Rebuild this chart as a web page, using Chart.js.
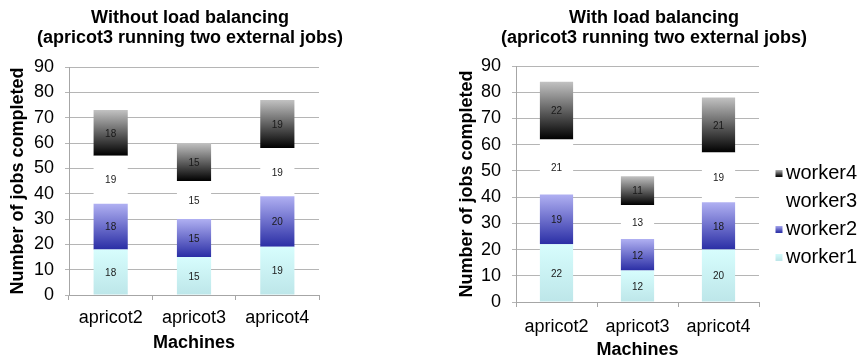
<!DOCTYPE html>
<html>
<head>
<meta charset="utf-8">
<script src="https://cdn.jsdelivr.net/npm/chart.js@4.4.1/dist/chart.umd.min.js"></script>
<style>
  html, body { margin: 0; padding: 0; background: #ffffff; overflow: hidden; width: 859px; height: 360px; }
  #leftChart { position: absolute; left: 0; top: 0; }
  #rightChart { position: absolute; left: 444px; top: 0; }
</style>
</head>
<body>
<canvas id="leftChart" width="380" height="360"></canvas>
<canvas id="rightChart" width="420" height="360"></canvas>
<script>
// ---- data -------------------------------------------------------------
const machines = ['apricot2', 'apricot3', 'apricot4'];
const workerNames = ['worker1', 'worker2', 'worker3', 'worker4'];

// Jobs completed per worker, no load balancing
const noLbWorker1 = [18, 15, 19];
const noLbWorker2 = [18, 15, 20];
const noLbWorker3 = [19, 15, 19];
const noLbWorker4 = [18, 15, 19];

// Jobs completed per worker, load balancing enabled
const lbWorker1 = [22, 12, 20];
const lbWorker2 = [19, 12, 18];
const lbWorker3 = [21, 13, 19];
const lbWorker4 = [22, 11, 21];

const yMin = 0;
const yMax = 90;
const yStep = 10;

const titleNoLb = ['Without load balancing', '(apricot3 running two external jobs)'];
const titleLb = ['With load balancing', '(apricot3 running two external jobs)'];
const yAxisTitle = 'Number of jobs completed';
const xAxisTitle = 'Machines';

// ---- styling ----------------------------------------------------------
const FONT = '"Liberation Sans", Arial, Helvetica, sans-serif';
Chart.defaults.font.family = FONT;
Chart.defaults.color = '#000000';

// top colour -> bottom colour of each worker's segment
const workerShades = [
  ['#d7fdfd', '#bde6e9'],
  ['#b0b0f2', '#2a2ea5'],
  ['#ffffff', '#ffffff'],
  ['#c2c2c2', '#000000']
];

function segmentFill(ctx) {
  const chart = ctx.chart;
  const shade = workerShades[ctx.datasetIndex];
  const y = chart.scales.y;
  if (ctx.type !== 'data' || !y) return shade[1];
  let base = 0;
  for (let i = 0; i < ctx.datasetIndex; i++) {
    base += chart.data.datasets[i].data[ctx.dataIndex];
  }
  const yTop = y.getPixelForValue(base + ctx.raw);
  const yBottom = y.getPixelForValue(base);
  if (!isFinite(yTop) || !isFinite(yBottom) || yTop === yBottom) return shade[1];
  const g = chart.ctx.createLinearGradient(0, yTop, 0, yBottom);
  g.addColorStop(0, shade[0]);
  g.addColorStop(1, shade[1]);
  return g;
}

// small legend swatches; the square sits near the right end so it stays close to the label
function makeSwatch(shade) {
  const c = document.createElement('canvas');
  c.width = 30; c.height = 7;
  const g = c.getContext('2d');
  const grad = g.createLinearGradient(0, 0, 0, 7);
  grad.addColorStop(0, shade[0]);
  grad.addColorStop(1, shade[1]);
  g.fillStyle = grad;
  g.fillRect(19, 0, 7, 7);
  return c;
}
const swatches = workerShades.map(makeSwatch);

// value printed in the middle of every stacked segment
const segmentValueLabels = {
  id: 'segmentValueLabels',
  afterDatasetsDraw(chart) {
    const ctx = chart.ctx;
    ctx.save();
    ctx.font = '10px ' + FONT;
    ctx.fillStyle = '#1a1a1a';
    ctx.textAlign = 'center';
    ctx.textBaseline = 'middle';
    chart.data.datasets.forEach((ds, di) => {
      const meta = chart.getDatasetMeta(di);
      meta.data.forEach((bar, i) => {
        ctx.fillText(String(ds.data[i]), bar.x, (bar.y + bar.base) / 2 + 1);
      });
    });
    ctx.restore();
  }
};

function buildDatasets(series) {
  return series.map((values, i) => ({
    label: workerNames[i],
    data: values,
    backgroundColor: segmentFill,
    borderWidth: 0,
    categoryPercentage: 1.0,
    barPercentage: 0.41
  }));
}

function buildConfig(p) {
  const scales = {
    x: {
      stacked: true,
      grid: { display: true, drawOnChartArea: false, offset: true, tickLength: 5, color: '#a6a6a6' },
      border: { display: true, color: '#a6a6a6' },
      ticks: { font: { size: 18 }, padding: p.xTickPad, color: '#000' },
      title: {
        display: true, text: xAxisTitle, color: '#000',
        font: { size: 18, weight: 'bold', lineHeight: p.xTitleLH },
        padding: { top: 0, bottom: p.xTitlePadBottom }
      },
      afterFit(s) { s.height = p.xAxisHeight; }
    },
    y: {
      stacked: true,
      min: yMin, max: yMax,
      grid: { color: '#b5b5b5', tickLength: 4 },
      border: { display: true, color: '#a6a6a6' },
      ticks: { stepSize: yStep, font: { size: 18 }, padding: 11, color: '#000' },
      title: {
        display: true, text: yAxisTitle, color: '#000',
        font: { size: 18, weight: 'bold', lineHeight: 1.2 },
        padding: { top: p.yTitlePadTop, bottom: 0 }
      },
      afterFit(s) { s.width = p.yAxisWidth; }
    }
  };
  if (p.rightGap) {
    // blank space to the right of the plot
    scales.gap = {
      type: 'linear', position: 'right', display: true,
      grid: { display: false }, border: { display: false }, ticks: { display: false },
      afterFit(s) { s.width = p.rightGap; }
    };
  }
  return {
    type: 'bar',
    data: { labels: machines, datasets: buildDatasets(p.series) },
    options: {
      responsive: false,
      animation: false,
      events: [],
      layout: { padding: 0 },
      scales,
      plugins: {
        tooltip: { enabled: false },
        title: {
          display: true, text: p.title, color: '#000',
          font: { size: 18, weight: 'bold', lineHeight: 20 / 18 },
          padding: { top: 8, bottom: p.titlePadBottom }
        },
        legend: p.legend ? {
          display: true,
          position: 'right',
          reverse: true,
          title: { display: true, text: '', font: { size: 10, lineHeight: 1 }, padding: { top: 60, bottom: 0 } },
          labels: {
            usePointStyle: true,
            boxWidth: 9, boxHeight: 9,
            padding: 8,
            color: '#000',
            font: { size: 20 },
            generateLabels(chart) {
              const items = Chart.defaults.plugins.legend.labels.generateLabels(chart);
              items.forEach(it => { it.pointStyle = swatches[it.datasetIndex]; });
              return items;
            }
          }
        } : { display: false }
      }
    },
    plugins: [segmentValueLabels]
  };
}

new Chart(document.getElementById('leftChart'), buildConfig({
  series: [noLbWorker1, noLbWorker2, noLbWorker3, noLbWorker4],
  title: titleNoLb,
  titlePadBottom: 19,
  yAxisWidth: 69,
  yTitlePadTop: 7,
  xAxisHeight: 65,
  xTickPad: 7,
  xTitleLH: 1.2,
  xTitlePadBottom: 6,
  rightGap: 61,
  legend: false
}));

new Chart(document.getElementById('rightChart'), buildConfig({
  series: [lbWorker1, lbWorker2, lbWorker3, lbWorker4],
  title: titleLb,
  titlePadBottom: 18,
  yAxisWidth: 72,
  yTitlePadTop: 12,
  xAxisHeight: 58,
  xTickPad: 9,
  xTitleLH: 1.0,
  xTitlePadBottom: 1,
  rightGap: 0,
  legend: true
}));
</script>
</body>
</html>
